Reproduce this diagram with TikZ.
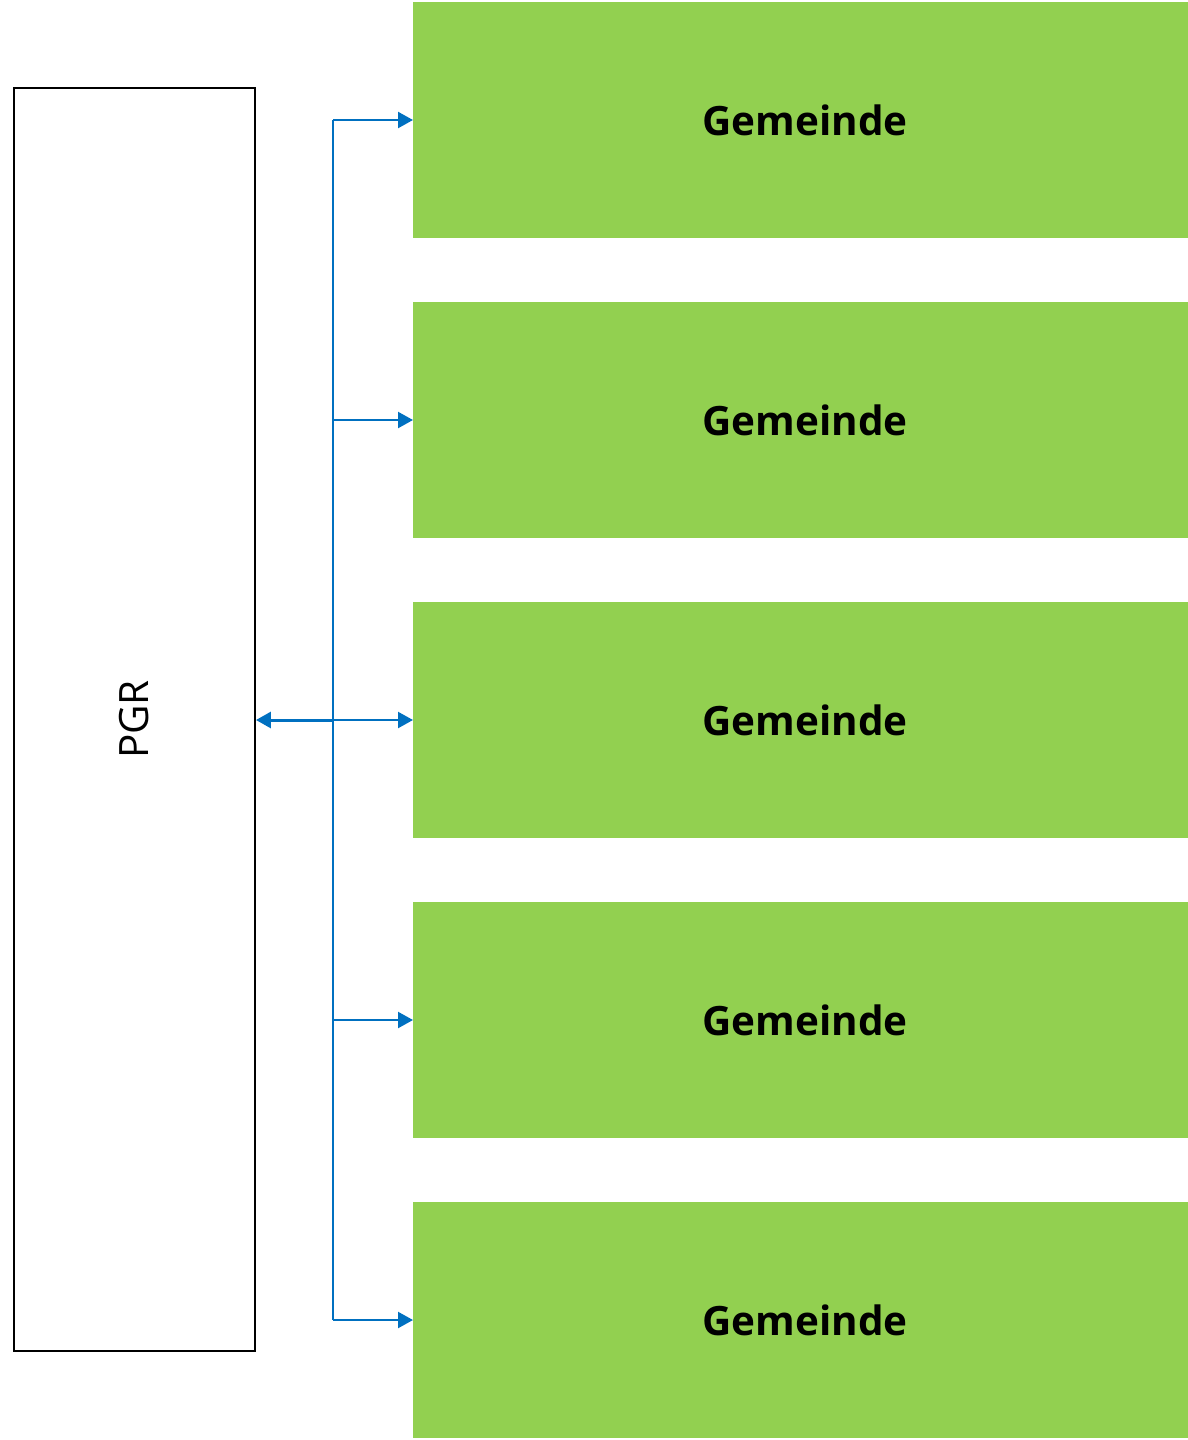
\documentclass[tikz,border=0pt]{standalone}
\usepackage{fontspec}
\setmainfont{Open Sans}
\usepackage{tikz}
\usetikzlibrary{arrows.meta, positioning}
\definecolor{gemgreen}{HTML}{92D050}
\definecolor{linkblue}{HTML}{0070C0}

\begin{document}
\begin{tikzpicture}[node distance=1.28cm,
    gem/.style={rectangle, fill=gemgreen, minimum width=15.5cm, minimum height=4.72cm, inner sep=0pt, outer sep=0pt, font=\fontsize{23}{27}\selectfont\bfseries},
    link/.style={draw=linkblue, line width=1.3pt, -{Triangle[length=0.3cm, width=0.32cm]}}]
    \useasboundingbox (0,0) rectangle (23.76,-28.8);

    \node (PGR) [rectangle, draw, line width=1.1pt, minimum width=4.82cm, minimum height=25.26cm, inner sep=0pt] at (2.69,-14.39) {};
    \node [rotate=90, font=\fontsize{23}{27}\selectfont] at (PGR.center) {PGR};

    \node (G1) [gem] at (16.01,-2.4) {\hspace{0.18cm}Gemeinde};
    \node (G2) [gem, below=of G1] {\hspace{0.18cm}Gemeinde};
    \node (G3) [gem, below=of G2] {\hspace{0.18cm}Gemeinde};
    \node (G4) [gem, below=of G3] {\hspace{0.18cm}Gemeinde};
    \node (G5) [gem, below=of G4] {\hspace{0.18cm}Gemeinde};

    \coordinate (top) at (6.66,-2.4);
    \coordinate (mid) at (top |- G3.west);
    \coordinate (bot) at (top |- G5.west);

    \draw [linkblue, line width=1.3pt] (top) -- (bot);
    \draw [link] (top) -- (G1.west);
    \draw [link] (top |- G2.west) -- (G2.west);
    \draw [link] (mid) -- (G3.west);
    \draw [link] (top |- G4.west) -- (G4.west);
    \draw [link] (bot) -- (G5.west);
    \draw [link, line width=1.7pt] (mid) -- (PGR.east |- mid);
\end{tikzpicture}
\end{document}
